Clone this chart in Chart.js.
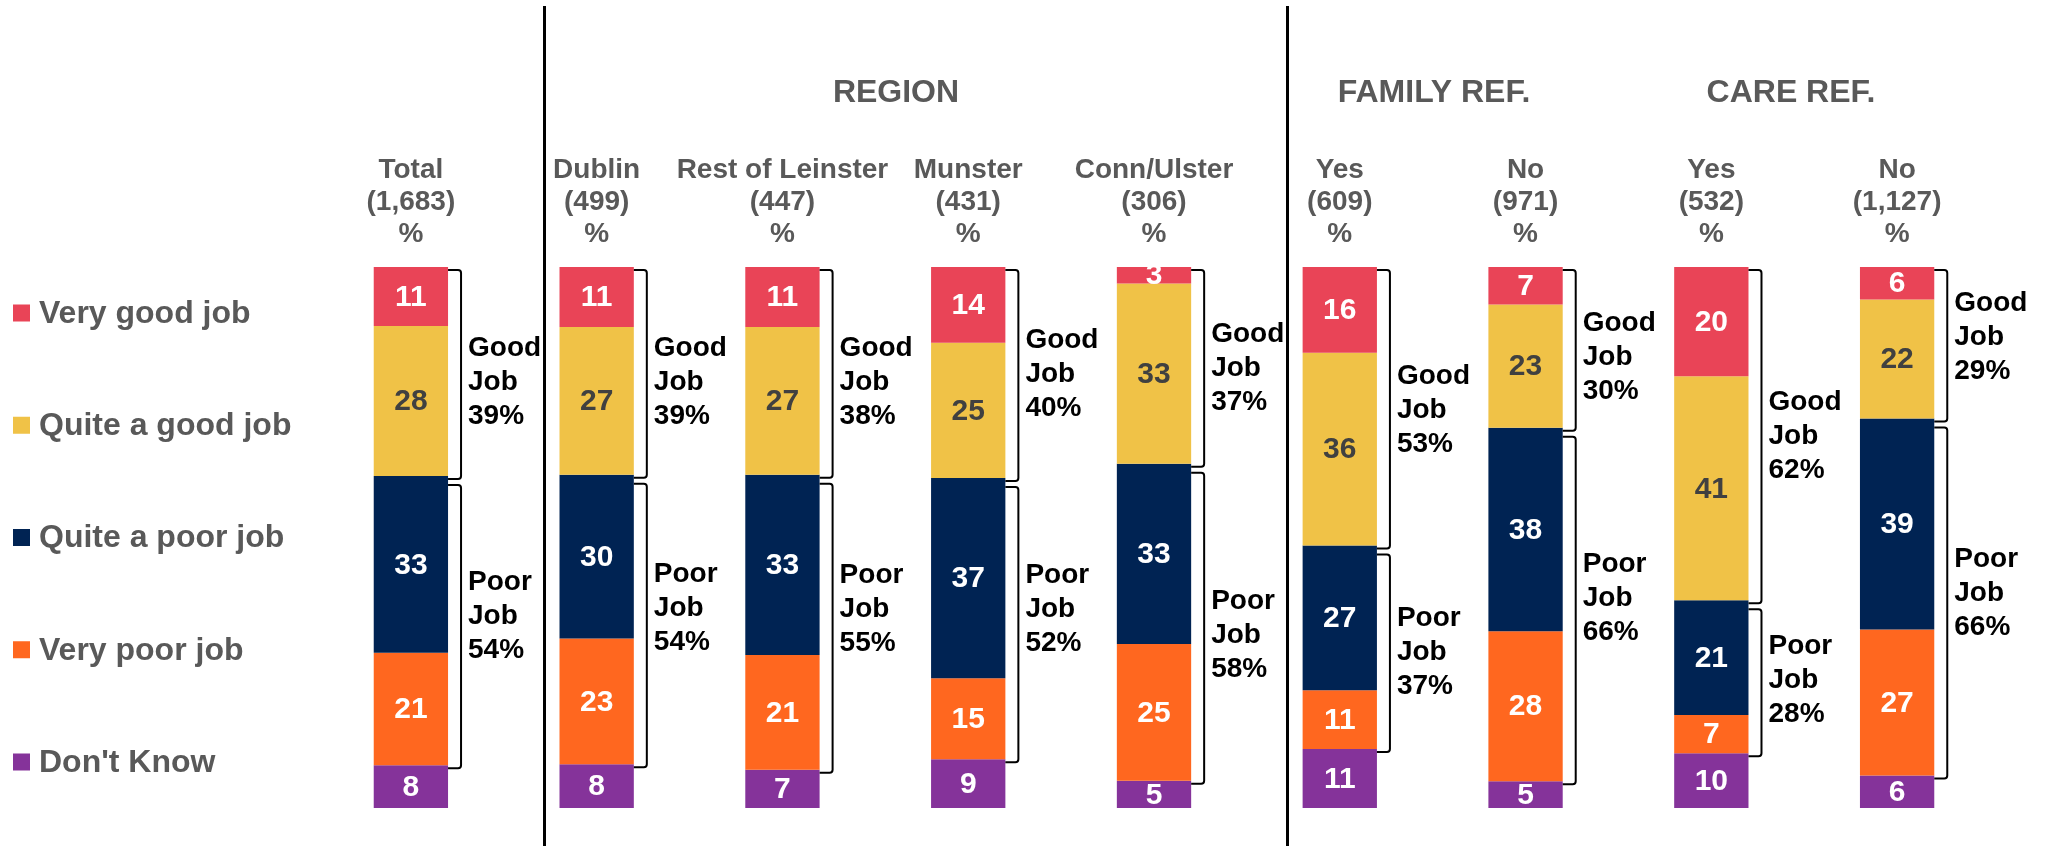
<!DOCTYPE html>
<html>
<head>
<meta charset="utf-8">
<script src="https://cdn.jsdelivr.net/npm/chart.js"></script>
<style>
  html, body { margin: 0; padding: 0; background: #ffffff; }
  #wrap { width: 2048px; height: 846px; }
</style>
</head>
<body>
<div id="wrap"><canvas id="jobChart" width="2048" height="846"></canvas></div>
<script>
// Columns and base sizes
const categories = ['Total', 'Dublin', 'Rest of Leinster', 'Munster', 'Conn/Ulster', 'Yes', 'No', 'Yes', 'No'];
const bases = ['(1,683)', '(499)', '(447)', '(431)', '(306)', '(609)', '(971)', '(532)', '(1,127)'];
const groupHeaders = ['REGION', 'FAMILY REF.', 'CARE REF.'];

// Series values (%), top of bar to bottom
const veryGood = [11, 11, 11, 14, 3, 16, 7, 20, 6];
const quiteGood = [28, 27, 27, 25, 33, 36, 23, 41, 22];
const quitePoor = [33, 30, 33, 37, 33, 27, 38, 21, 39];
const veryPoor = [21, 23, 21, 15, 25, 11, 28, 7, 27];
const dontKnow = [8, 8, 7, 9, 5, 11, 5, 10, 6];

// Net scores shown beside the brackets
const goodJob = [39, 39, 38, 40, 37, 53, 30, 62, 29];
const poorJob = [54, 54, 55, 52, 58, 37, 66, 28, 66];

const seriesNames = ['Very good job', 'Quite a good job', 'Quite a poor job', 'Very poor job', "Don't Know"];
const seriesValues = [veryGood, quiteGood, quitePoor, veryPoor, dontKnow];
const seriesColors = ['#E94457', '#F0C247', '#002353', '#FF671F', '#85339A'];
const labelColors = ['#ffffff', '#404040', '#ffffff', '#ffffff', '#ffffff'];

const FONT = '"Liberation Sans", Arial, sans-serif';

// each bar fills the full height (100% stacked)
const totals = categories.map((c, i) => seriesValues.reduce((s, arr) => s + arr[i], 0));

const datasets = seriesNames.map((name, k) => ({
    label: name,
    data: seriesValues[k].map((v, i) => v / totals[i] * 100),
    backgroundColor: seriesColors[k],
    borderWidth: 0,
    barPercentage: 0.4,
    categoryPercentage: 1.0
}));

function drawBracket(ctx, x, y1, y2) {
    const tick = 13, r = 3;
    ctx.beginPath();
    ctx.moveTo(x - tick, y1);
    ctx.lineTo(x - r, y1);
    ctx.quadraticCurveTo(x, y1, x, y1 + r);
    ctx.lineTo(x, y2 - r);
    ctx.quadraticCurveTo(x, y2, x - r, y2);
    ctx.lineTo(x - tick, y2);
    ctx.stroke();
}

// text boxes beside the brackets were placed by hand in the original
const goodShift = [8, 8, 8, -1, 0, 1, 7, 0, -8];
const poorShift = [-10, -17, -19, -15, 7, -1, -12, -3, -10];

const overlay = {
    id: 'overlay',
    afterDatasetsDraw(chart) {
        const ctx = chart.ctx;
        const yScale = chart.scales.y;
        ctx.save();
        ctx.textBaseline = 'middle';

        // values inside the segments
        ctx.textAlign = 'center';
        ctx.font = 'bold 30px ' + FONT;
        chart.data.datasets.forEach((ds, k) => {
            chart.getDatasetMeta(k).data.forEach((bar, i) => {
                ctx.fillStyle = labelColors[k];
                ctx.fillText(String(seriesValues[k][i]), bar.x, (bar.y + bar.base) / 2 + 1);
            });
        });

        const first = chart.getDatasetMeta(0).data;
        const qGood = chart.getDatasetMeta(1).data;
        const vPoor = chart.getDatasetMeta(3).data;

        // column headers
        ctx.fillStyle = '#595959';
        ctx.font = 'bold 28px ' + FONT;
        first.forEach((bar, i) => {
            ctx.fillText(categories[i], bar.x, 170);
            ctx.fillText(bases[i], bar.x, 202);
            ctx.fillText('%', bar.x, 234);
        });

        // group headers
        ctx.font = 'bold 32px ' + FONT;
        const groupX = [896, 1434, 1791];
        groupHeaders.forEach((g, j) => ctx.fillText(g, groupX[j], 93));

        // separators
        ctx.strokeStyle = '#000000';
        ctx.lineWidth = 3;
        [1, 5].forEach(i => {
            const x = Math.round(first[i].x - first[i].width / 2 - 16) + 0.5;
            ctx.beginPath();
            ctx.moveTo(x, 6);
            ctx.lineTo(x, 846);
            ctx.stroke();
        });

        // brackets and net labels
        ctx.lineWidth = 2;
        ctx.textAlign = 'left';
        ctx.fillStyle = '#000000';
        ctx.font = 'bold 28px ' + FONT;
        first.forEach((bar, i) => {
            const right = bar.x + bar.width / 2;
            const bx = right + 13;
            const top = yScale.getPixelForValue(0) + 3;
            const mid = qGood[i].y;
            const bottom = vPoor[i].y;
            drawBracket(ctx, bx, top, mid + 3);
            drawBracket(ctx, bx, mid + 9, bottom + 3);
            const gy = (top + mid + 3) / 2 + goodShift[i];
            const py = (mid + 9 + bottom + 3) / 2 + poorShift[i];
            ['Good', 'Job', goodJob[i] + '%'].forEach((t, n) => ctx.fillText(t, right + 20, gy + (n - 1) * 34));
            ['Poor', 'Job', poorJob[i] + '%'].forEach((t, n) => ctx.fillText(t, right + 20, py + (n - 1) * 34));
        });

        // legend on the left
        ctx.font = 'bold 32px ' + FONT;
        seriesNames.forEach((name, k) => {
            const cy = 313 + k * 112.25;
            ctx.fillStyle = seriesColors[k];
            ctx.fillRect(13, cy - 8.5, 17, 17);
            ctx.fillStyle = '#595959';
            ctx.fillText(name, 39, cy + 1);
        });

        ctx.restore();
    }
};

new Chart(document.getElementById('jobChart'), {
    type: 'bar',
    data: { labels: categories, datasets: datasets },
    options: {
        responsive: false,
        animation: false,
        devicePixelRatio: 1,
        layout: { padding: { left: 318, right: 58, top: 267, bottom: 38 } },
        plugins: {
            legend: { display: false },
            tooltip: { enabled: false }
        },
        scales: {
            x: { stacked: true, display: false },
            y: { stacked: true, display: false, min: 0, max: 100, reverse: true }
        }
    },
    plugins: [overlay]
});
</script>
</body>
</html>
